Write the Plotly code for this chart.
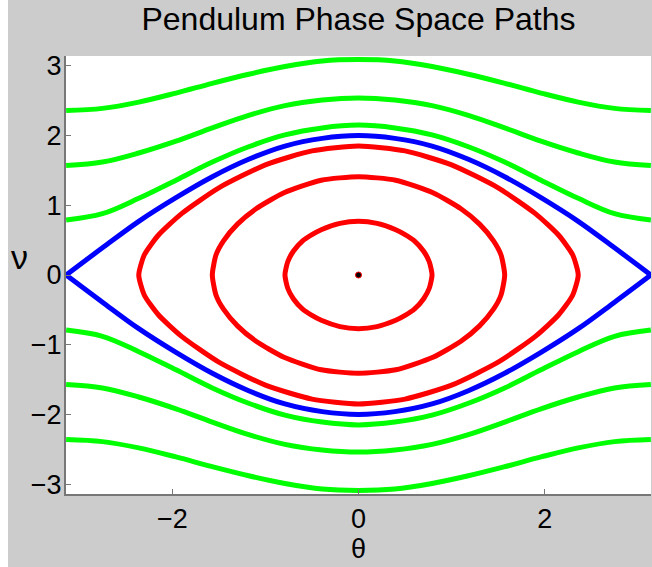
import plotly.graph_objects as go

# angle samples used for the open (rotating) paths and the separatrix
theta = [-3.14, -2.75, -2.36, -1.96, -1.57, -1.18, -0.79, -0.39, 0.00,
         0.39, 0.79, 1.18, 1.57, 1.96, 2.36, 2.75, 3.14]

# separatrix (blue)
sep_top = [0.00, 0.39, 0.77, 1.11, 1.41, 1.66, 1.85, 1.96, 2.00,
           1.96, 1.85, 1.66, 1.41, 1.11, 0.77, 0.39, 0.00]
sep_bot = [0.00, -0.39, -0.77, -1.11, -1.41, -1.66, -1.85, -1.96, -2.00,
           -1.96, -1.85, -1.66, -1.41, -1.11, -0.77, -0.39, 0.00]

# rotating paths (green)
green_top_1 = [0.79, 0.88, 1.10, 1.36, 1.62, 1.84, 2.01, 2.11, 2.15,
               2.11, 2.01, 1.84, 1.62, 1.36, 1.10, 0.88, 0.79]
green_top_2 = [1.57, 1.62, 1.75, 1.92, 2.11, 2.29, 2.43, 2.51, 2.54,
               2.51, 2.43, 2.29, 2.11, 1.92, 1.75, 1.62, 1.57]
green_top_3 = [2.36, 2.39, 2.48, 2.61, 2.75, 2.88, 2.99, 3.07, 3.09,
               3.07, 2.99, 2.88, 2.75, 2.61, 2.48, 2.39, 2.36]
green_bot_1 = [-0.79, -0.88, -1.10, -1.36, -1.62, -1.84, -2.01, -2.11, -2.15,
               -2.11, -2.01, -1.84, -1.62, -1.36, -1.10, -0.88, -0.79]
green_bot_2 = [-1.57, -1.62, -1.75, -1.92, -2.11, -2.29, -2.43, -2.51, -2.54,
               -2.51, -2.43, -2.29, -2.11, -1.92, -1.75, -1.62, -1.57]
green_bot_3 = [-2.36, -2.39, -2.48, -2.61, -2.75, -2.88, -2.99, -3.07, -3.09,
               -3.07, -2.99, -2.88, -2.75, -2.61, -2.48, -2.39, -2.36]

# closed oscillation paths (red)
red1_theta = [-0.79, -0.76, -0.70, -0.60, -0.50, -0.40, -0.20, 0.00, 0.20, 0.40, 0.50, 0.60, 0.70, 0.76, 0.79,
              0.76, 0.70, 0.60, 0.50, 0.40, 0.20, 0.00, -0.20, -0.40, -0.50, -0.60, -0.70, -0.76, -0.79]
red1_v = [0.00, 0.19, 0.34, 0.49, 0.58, 0.65, 0.74, 0.77, 0.74, 0.65, 0.58, 0.49, 0.34, 0.19, 0.00,
          -0.19, -0.34, -0.49, -0.58, -0.65, -0.74, -0.77, -0.74, -0.65, -0.58, -0.49, -0.34, -0.19, 0.00]

red2_theta = [-1.57, -1.53, -1.45, -1.30, -1.10, -0.80, -0.40, 0.00, 0.40, 0.80, 1.10, 1.30, 1.45, 1.53, 1.57,
              1.53, 1.45, 1.30, 1.10, 0.80, 0.40, 0.00, -0.40, -0.80, -1.10, -1.30, -1.45, -1.53, -1.57]
red2_v = [0.00, 0.29, 0.49, 0.73, 0.95, 1.18, 1.36, 1.41, 1.36, 1.18, 0.95, 0.73, 0.49, 0.29, 0.00,
          -0.29, -0.49, -0.73, -0.95, -1.18, -1.36, -1.41, -1.36, -1.18, -0.95, -0.73, -0.49, -0.29, 0.00]

red3_theta = [-2.36, -2.30, -2.15, -1.90, -1.50, -1.00, -0.50, 0.00, 0.50, 1.00, 1.50, 1.90, 2.15, 2.30, 2.36,
              2.30, 2.15, 1.90, 1.50, 1.00, 0.50, 0.00, -0.50, -1.00, -1.50, -1.90, -2.15, -2.30, -2.36]
red3_v = [0.00, 0.29, 0.57, 0.88, 1.25, 1.58, 1.78, 1.85, 1.78, 1.58, 1.25, 0.88, 0.57, 0.29, 0.00,
          -0.29, -0.57, -0.88, -1.25, -1.58, -1.78, -1.85, -1.78, -1.58, -1.25, -0.88, -0.57, -0.29, 0.00]

# equilibrium point
eq_theta = [0.0]
eq_v = [0.0]

x_ticks = [-2, 0, 2]
y_ticks = [-3, -2, -1, 0, 1, 2, 3]

LW = 5
fig = go.Figure()

for g in [green_top_1, green_top_2, green_top_3, green_bot_1, green_bot_2, green_bot_3]:
    fig.add_trace(go.Scatter(x=theta, y=g, mode='lines', line=dict(color='#00ff00', width=LW, shape='spline')))

# closed paths drawn as polylines (pointed tips like the original)
for rt, rv in [(red1_theta, red1_v), (red2_theta, red2_v), (red3_theta, red3_v)]:
    fig.add_trace(go.Scatter(x=rt, y=rv, mode='lines',
                             line=dict(color='#ff0000', width=LW, shape='spline', smoothing=0.6)))

for s in [sep_top, sep_bot]:
    fig.add_trace(go.Scatter(x=theta, y=s, mode='lines', line=dict(color='#0000ff', width=LW, shape='spline')))

fig.add_trace(go.Scatter(x=eq_theta, y=eq_v, mode='markers',
                         marker=dict(size=6, color='black', line=dict(color='#ff0000', width=1))))

axis_style = dict(showgrid=False, zeroline=False, showline=True, linecolor='#777777', linewidth=2,
                  ticks='inside', ticklen=5, tickcolor='#777777', tickfont=dict(size=27, color='black'),
                  mirror=False)

fig.update_layout(
    width=644, height=567,
    margin=dict(l=58, r=1, t=56, b=73),
    paper_bgcolor='#cccccc', plot_bgcolor='white',
    font=dict(family='Liberation Sans, Arial, sans-serif', color='black'),
    showlegend=False,
    title=dict(text='Pendulum Phase Space Paths', x=0.5, xref='paper', xanchor='center',
               y=1 - 19 / 567, yref='container', yanchor='middle', font=dict(size=32)),
    xaxis=dict(range=[-3.1416, 3.1416], tickvals=x_ticks, **axis_style),
    yaxis=dict(range=[-3.1416, 3.1416], tickvals=y_ticks, ticklabelstandoff=-3, **axis_style),
    annotations=[
        dict(text='ν', x=(11 - 58) / 585, y=(494 - 257) / 438, xref='paper', yref='paper',
             xanchor='center', yanchor='middle', showarrow=False, font=dict(size=34)),
        dict(text='θ', x=0.5, y=(494 - 549) / 438, xref='paper', yref='paper',
             xanchor='center', yanchor='middle', showarrow=False, font=dict(size=27)),
    ],
)

fig.write_html("out.html", post_script="document.body.style.margin='0 0 0 8px';")
